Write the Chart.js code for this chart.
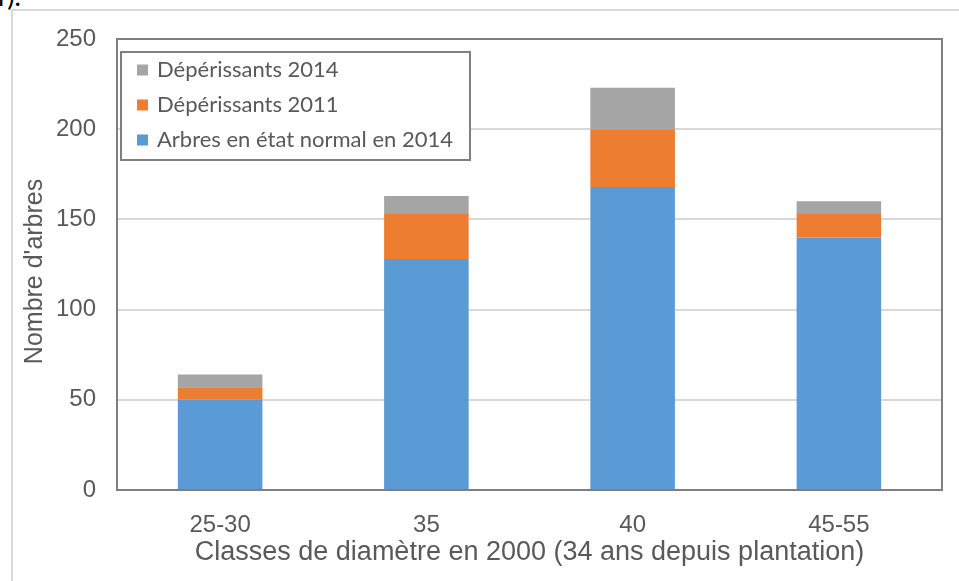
<!DOCTYPE html>
<html>
<head>
<meta charset="utf-8">
<script src="https://cdn.jsdelivr.net/npm/chart.js@4/dist/chart.umd.min.js"></script>
<style>
  html, body { margin: 0; padding: 0; background: #fff; overflow: hidden; }
  #wrap { position: relative; width: 959px; height: 581px; }
  #frame { position: absolute; left: 11px; top: 9px; width: 1000px; height: 700px; border: 2px solid #d9d9d9; }
  #cut { position: absolute; left: -2px; top: -21px; font-family: Lato, sans-serif; font-size: 27px; color: #000; }
  #chart-display { position: absolute; left: 0; top: 0; }
</style>
</head>
<body>
<div id="wrap">
  <div id="frame"></div>
  <div id="cut">r).</div>
  <canvas id="chart-display" width="959" height="581"></canvas>
</div>
<script>
var categories = ['25-30', '35', '40', '45-55'];
var arbresNormal2014 = [50, 128, 168, 140];
var deperissants2011 = [7, 25, 32, 13];
var deperissants2014 = [7, 10, 23, 7];
var yMin = 0, yMax = 250, yStep = 50;

var textColor = '#595959';
var ctx = document.getElementById('chart-display');

// box around the plot + legend drawn inside it, like the excel original
var boxAndLegend = {
    id: 'boxAndLegend',
    afterDraw: function(chart) {
        var c = chart.ctx;
        var a = chart.chartArea;
        c.save();
        c.strokeStyle = '#7f7f7f';
        c.lineWidth = 2;
        c.strokeRect(a.left, a.top, a.right - a.left, a.bottom - a.top);

        // legend box
        var lx = a.left + 4, ly = a.top + 13, lw = 349, lh = 108;
        c.fillStyle = '#fff';
        c.fillRect(lx, ly, lw, lh);
        c.strokeRect(lx, ly, lw, lh);
        var sets = chart.data.datasets.slice().reverse();
        c.font = '22px Lato, sans-serif';
        c.textBaseline = 'middle';
        for (var i = 0; i < sets.length; i++) {
            var y = ly + 18 + i * 35;
            c.fillStyle = sets[i].backgroundColor;
            c.fillRect(lx + 16, y - 5.5, 11, 11);
            c.fillStyle = textColor;
            c.fillText(sets[i].label, lx + 36, y);
        }
        c.restore();
    }
};

new Chart(ctx, {
    type: 'bar',
    data: {
        labels: categories,
        datasets: [{
            label: 'Arbres en état normal en 2014',
            data: arbresNormal2014,
            backgroundColor: '#5b9bd5'
        }, {
            label: 'Dépérissants 2011',
            data: deperissants2011,
            backgroundColor: '#ed7d31'
        }, {
            label: 'Dépérissants 2014',
            data: deperissants2014,
            backgroundColor: '#a5a5a5'
        }]
    },
    options: {
        responsive: false,
        animation: false,
        datasets: { bar: { categoryPercentage: 1, barPercentage: 0.41 } },
        layout: { padding: { top: 39, right: 17, left: 0, bottom: 0 } },
        plugins: { legend: { display: false }, tooltip: { enabled: false } },
        scales: {
            x: {
                stacked: true,
                afterFit: function(scale) { scale.height = 91; },
                grid: { display: false },
                border: { display: false },
                ticks: { color: textColor, padding: 13, font: { family: 'Liberation Sans', size: 24 } },
                title: {
                    display: true,
                    text: 'Classes de diamètre en 2000 (34 ans depuis plantation)',
                    color: textColor,
                    font: { family: 'Liberation Sans', size: 27 },
                    padding: { top: 0, bottom: 12 }
                }
            },
            y: {
                stacked: true,
                min: yMin,
                max: yMax,
                afterFit: function(scale) { scale.width = 117; },
                grid: { color: '#d9d9d9', lineWidth: 2, drawTicks: false },
                border: { display: false },
                ticks: { stepSize: yStep, color: textColor, padding: 21, font: { family: 'Liberation Sans', size: 24 } },
                title: {
                    display: true,
                    // trailing spaces nudge the rotated title a bit lower, as in the original
                    text: "Nombre d'arbres  ",
                    color: textColor,
                    font: { family: 'Liberation Sans', size: 25 },
                    padding: { top: 20, bottom: 0 }
                }
            }
        }
    },
    plugins: [boxAndLegend]
});
</script>
</body>
</html>
